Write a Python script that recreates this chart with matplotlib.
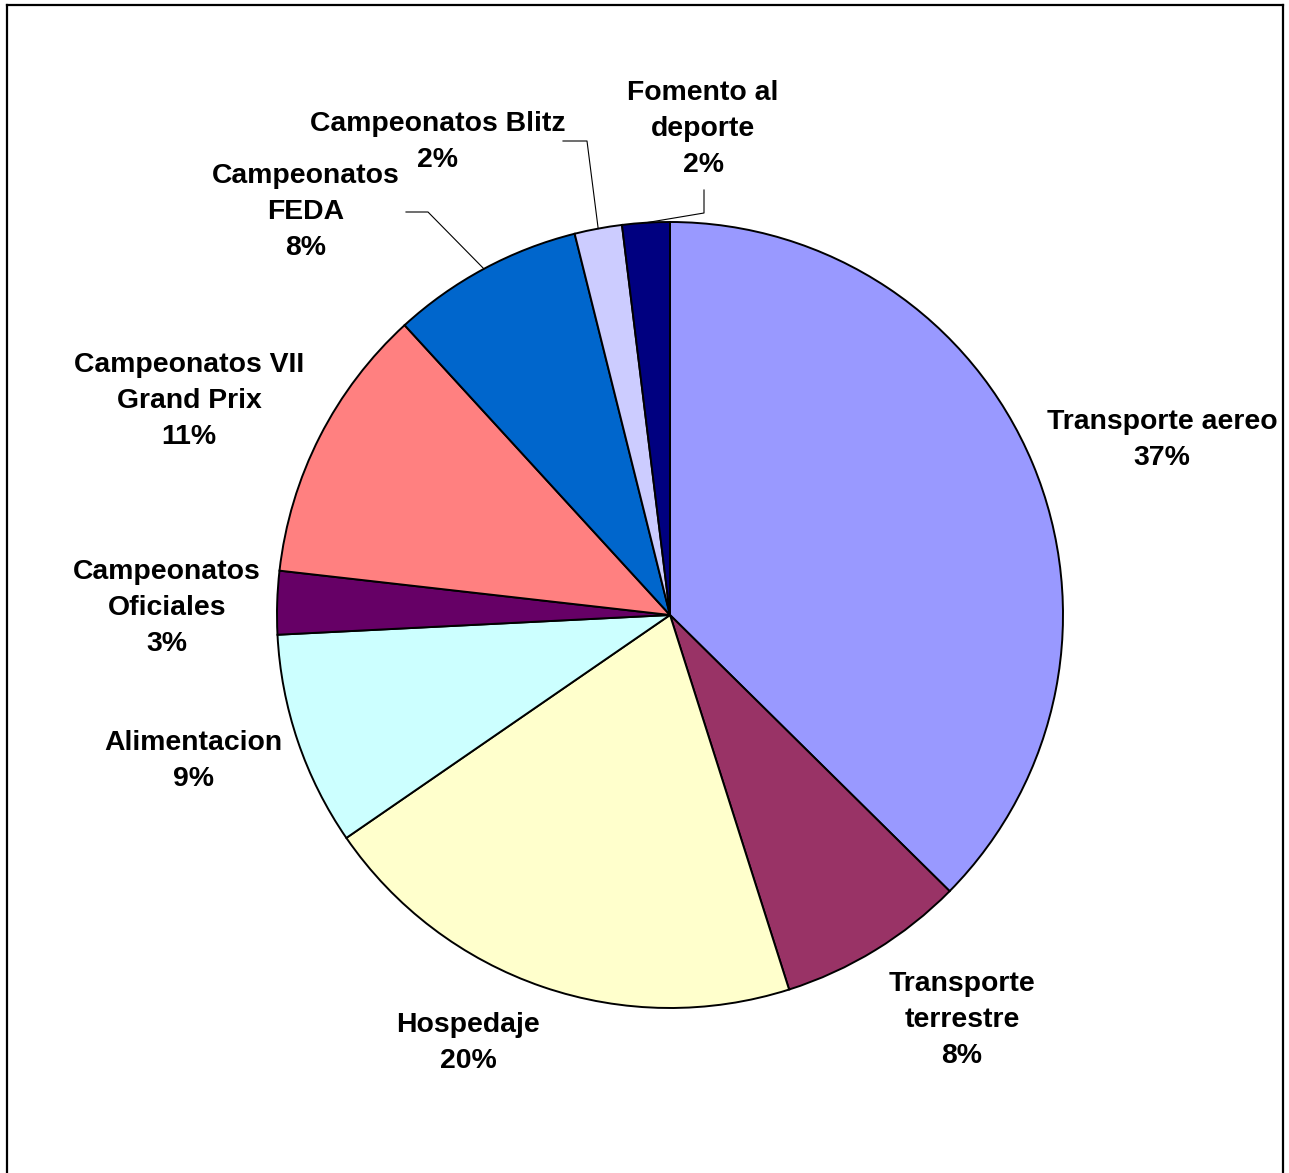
import numpy as np
import matplotlib
matplotlib.use("Agg")
import matplotlib.pyplot as plt
from matplotlib.lines import Line2D

categories = ["Transporte aereo", "Transporte\nterrestre", "Hospedaje", "Alimentacion",
              "Campeonatos\nOficiales", "Campeonatos VII\nGrand Prix", "Campeonatos\nFEDA",
              "Campeonatos Blitz", "Fomento al\ndeporte"]
values = [37.4, 7.7, 20.3, 8.8, 2.6, 11.4, 7.9, 1.95, 1.95]
colors = ["#9999FF", "#993366", "#FFFFCC", "#CCFFFF", "#660066",
          "#FF8080", "#0066CC", "#CCCCFF", "#000080"]

W, H = 1289, 1173
fig = plt.figure(figsize=(W / 100, H / 100), dpi=100)
ax = fig.add_axes([0, 0, 1, 1])

cx, cy, R = 670, H - 615, 393
wedges, _ = ax.pie(values, colors=colors, startangle=90, counterclock=False,
                   center=(cx, cy), radius=R, frame=True,
                   wedgeprops=dict(edgecolor="black", linewidth=1.4))
ax.set_xlim(0, W)
ax.set_ylim(0, H)
ax.set_aspect("equal")
ax.axis("off")

# label layout (pixel positions of label centres, top-left origin)
label_pos = [(1162, 440), (962, 1020), (468, 1043), (193, 761), (167, 608),
             (189, 401), (306, 212), (438, 142), (703, 129)]
# leader lines: elbow points (pixel) for small slices
leaders = {6: [(406, 212), (428, 212)], 7: [(563, 141), (587, 141)], 8: [(704, 190), (704, 213)]}

font = dict(family=["Liberation Sans", "DejaVu Sans"], fontweight="bold", fontsize=20.4)
for i, (name, v) in enumerate(zip(categories, values)):
    x, y = label_pos[i]
    ax.text(x, H - y, f"{name}\n{round(v)}%", ha="center", va="center",
            linespacing=1.5, **font)
    if i in leaders:
        w = wedges[i]
        mid = np.deg2rad((w.theta1 + w.theta2) / 2)
        ex, ey = cx + R * np.cos(mid), cy + R * np.sin(mid)
        pts = [(px, H - py) for px, py in leaders[i]] + [(ex, ey)]
        ax.plot([p[0] for p in pts], [p[1] for p in pts], color="black", lw=0.8)

# chart area border (open at bottom)
fl, ft, fr = 7 / W, 1 - 5 / H, 1283 / W
for xs, ys in [([fl, fl], [0, ft]), ([fl, fr], [ft, ft]), ([fr, fr], [ft, 0])]:
    fig.add_artist(Line2D(xs, ys, color="black", lw=1.6, transform=fig.transFigure))

fig.savefig("out.png", dpi=100)
